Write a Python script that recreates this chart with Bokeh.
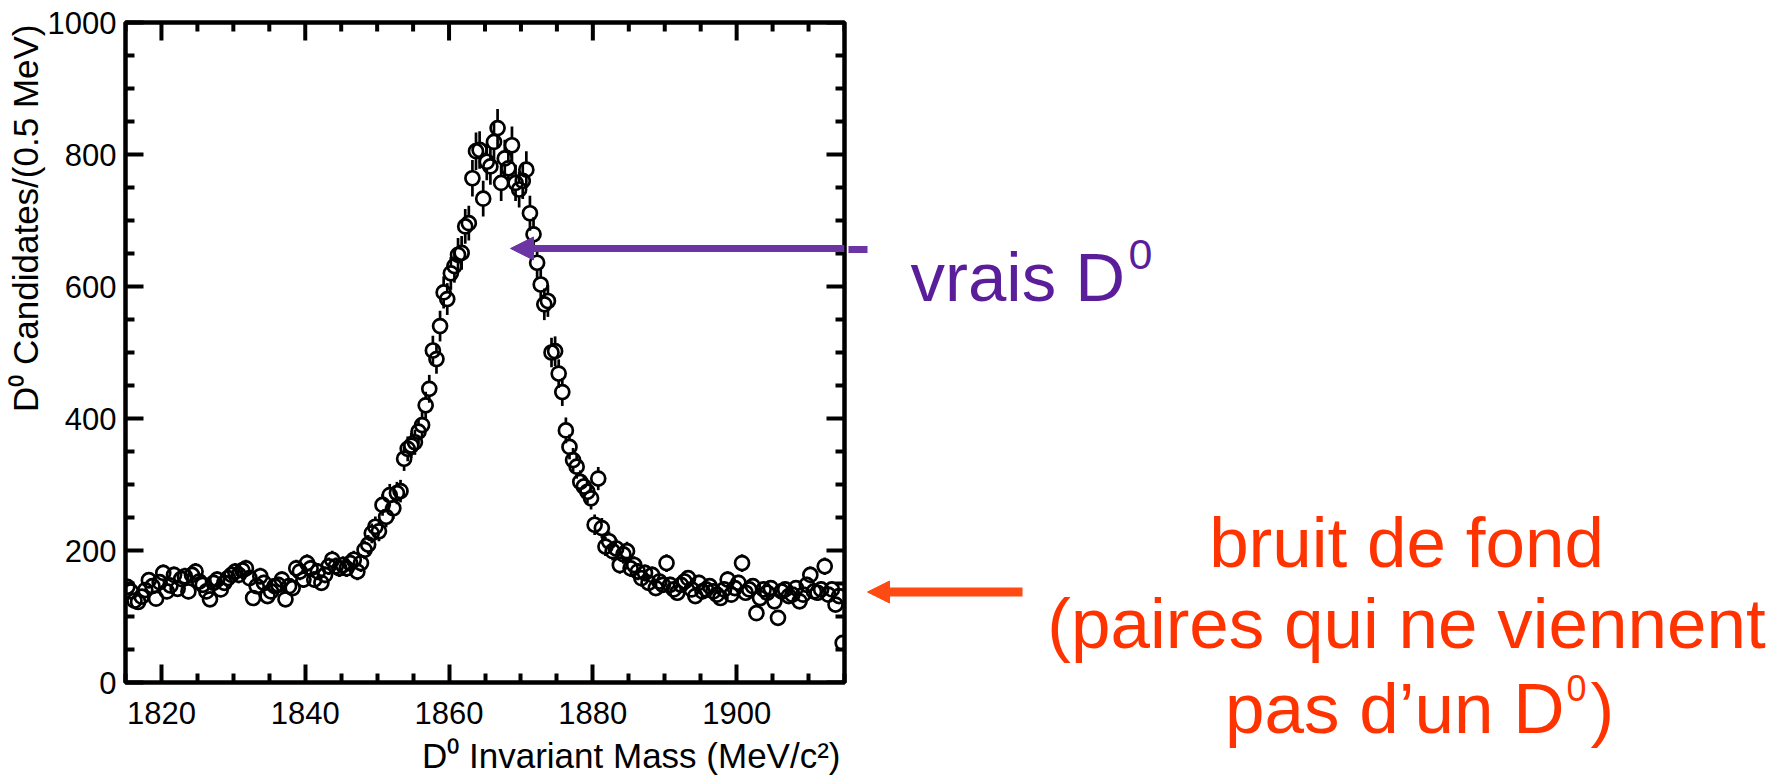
import numpy as np
from bokeh.plotting import figure
from bokeh.layouts import row
from bokeh.models import (ColumnDataSource, FixedTicker, Range1d, Title,
                          Arrow, NormalHead)
from bokeh.core.properties import value
from bokeh.embed import file_html
from bokeh.resources import INLINE

# ---------------- data ----------------
mass_lo = 1815.0
mass_hi = 1915.0
bin_width = 0.5
counts = [
    145, 138, 124, 122, 130, 140, 155, 146, 127, 152,
    166, 138, 147, 163, 142, 157, 161, 138, 163, 168,
    153, 148, 138, 126, 151, 156, 141, 151, 158, 163,
    168, 163, 170, 173, 158, 128, 146, 161, 151, 131,
    138, 146, 148, 156, 126, 146, 143, 173, 168, 156,
    181, 173, 156, 168, 151, 163, 176, 186, 176, 173,
    178, 173, 181, 186, 168, 181, 201, 209, 226, 236,
    229, 269, 251, 284, 264, 287, 290, 339, 354, 359,
    364, 380, 390, 420, 445, 503, 490, 540, 591, 581,
    620, 631, 648, 651, 691, 696, 764, 805, 807, 733,
    789, 782, 819, 840, 757, 794, 779, 814, 757, 747,
    760, 777, 711, 679, 636, 603, 573, 578, 500, 502,
    468, 440, 382, 357, 337, 327, 304, 297, 289, 279,
    239, 309, 234, 206, 214, 199, 203, 178, 194, 199,
    173, 178, 168, 158, 166, 151, 163, 143, 153, 148,
    181, 148, 141, 136, 148, 153, 158, 141, 131, 151,
    138, 141, 146, 138, 133, 128, 141, 156, 133, 143,
    151, 181, 136, 141, 146, 105, 128, 141, 136, 143,
    123, 98, 138, 141, 131, 133, 143, 123, 133, 148,
    163, 138, 136, 141, 176, 133, 141, 118, 131, 60,
]
x_major = [1820, 1840, 1860, 1880, 1900]
x_minor = [1815, 1825, 1830, 1835, 1845, 1850, 1855, 1865, 1870, 1875,
           1885, 1890, 1895, 1905, 1910, 1915]
y_major = [0, 200, 400, 600, 800, 1000]
y_minor = [50, 100, 150, 250, 300, 350, 450, 500, 550, 650, 700, 750,
           850, 900, 950]
x_title = "D\u2070 Invariant Mass (MeV/c\u00b2)"
y_title = "D\u2070 Candidates/(0.5 MeV)"
note_signal = "vrais D"
note_bkg = ["bruit de fond", "(paires qui ne viennent", "pas d\u2019un D"]

# ---------------- layout (page pixels) ----------------
W, H = 1784, 781
MAIN_W = 848
B_LEFT, B_TOP, FRAME_W, FRAME_H = 125, 22, 719, 663
B_RIGHT = MAIN_W - B_LEFT - FRAME_W
B_BOTTOM = H - B_TOP - FRAME_H
Y_LO, Y_HI = 0, 1000
SX = FRAME_W / (mass_hi - mass_lo)
SY = FRAME_H / (Y_HI - Y_LO)
MAJ_LEN, MIN_LEN = 18, 9
FONT = "Liberation Sans"


def X(px):
    return mass_lo + (px - B_LEFT) / SX


def Y(py):
    return Y_LO + (B_TOP + FRAME_H - py) / SY


mass = mass_lo + bin_width * (np.arange(len(counts)) + 0.5)
cnt = np.array(counts, dtype=float)
err = np.sqrt(cnt)
MARKER = 14
gap = (MARKER / 2) / SY
has = err > gap
src = ColumnDataSource(dict(
    x=mass, y=cnt,
    lo0=cnt - err, lo1=np.where(has, cnt - gap, cnt - err),
    hi0=np.where(has, cnt + gap, cnt + err), hi1=cnt + err,
))

p = figure(width=MAIN_W, height=H, x_range=Range1d(mass_lo, mass_hi),
           y_range=Range1d(Y_LO, Y_HI), output_backend="svg",
           toolbar_location=None, min_border_left=B_LEFT,
           min_border_right=B_RIGHT, min_border_top=B_TOP,
           min_border_bottom=B_BOTTOM)
p.grid.visible = False
p.outline_line_color = "black"
p.outline_line_width = 4.5
p.background_fill_color = "white"
p.border_fill_color = "white"
p.frame_align = False


def style(ax, ticker, standoff):
    ax.ticker = ticker
    ax.axis_line_color = None
    ax.major_tick_in = MAJ_LEN
    ax.major_tick_out = 0
    ax.minor_tick_in = MIN_LEN
    ax.minor_tick_out = 0
    ax.major_tick_line_width = 4
    ax.minor_tick_line_width = 4
    ax.major_tick_line_color = "black"
    ax.minor_tick_line_color = "black"
    ax.major_label_text_font = FONT
    ax.major_label_text_font_size = "31px"
    ax.major_label_text_color = "black"
    ax.major_label_standoff = standoff


style(p.xaxis[0], FixedTicker(ticks=x_major, minor_ticks=x_minor), 19)
style(p.yaxis[0], FixedTicker(ticks=y_major, minor_ticks=y_minor), 9)

p.add_layout(Title(text=x_title, align="right", offset=4, standoff=14,
                   text_font=FONT, text_font_size="35px",
                   text_font_style="normal", text_color="black"), "below")
p.add_layout(Title(text=y_title, align="right", offset=2, standoff=0,
                   text_font=FONT, text_font_size="35px",
                   text_font_style="normal", text_color="black"), "left")

# ticks on the top and right sides of the frame (pointing inwards)
tx = np.array(x_major + x_minor, dtype=float)
tlen_x = np.array([MAJ_LEN] * len(x_major) + [MIN_LEN] * len(x_minor)) / SY
p.segment(x0=tx, y0=np.full(tx.size, float(Y_HI)), x1=tx, y1=Y_HI - tlen_x,
          line_color="black", line_width=4)
ty = np.array(y_major + y_minor, dtype=float)
tlen_y = np.array([MAJ_LEN] * len(y_major) + [MIN_LEN] * len(y_minor)) / SX
p.segment(x0=np.full(ty.size, mass_hi), y0=ty, x1=mass_hi - tlen_y, y1=ty,
          line_color="black", line_width=4)

# error bars (with a gap for the open marker) and markers
p.segment(x0="x", y0="lo0", x1="x", y1="lo1", source=src,
          line_color="black", line_width=2.7)
p.segment(x0="x", y0="hi0", x1="x", y1="hi1", source=src,
          line_color="black", line_width=2.7)
p.scatter("x", "y", source=src, marker="circle", size=MARKER,
          line_color="black", line_width=2.7, fill_color=None)

PURPLE_T = "#5a1e9b"
PURPLE_A = "#6b35a3"
RED_T = "#ff3300"
RED_A = "#ff4a14"

# purple arrow: the part inside the frame with its head
p.add_layout(Arrow(x_start=mass_hi, y_start=Y(249), x_end=X(510),
                   y_end=Y(249), line_color=PURPLE_A, line_width=7,
                   end=NormalHead(size=23, fill_color=PURPLE_A,
                                  line_color=PURPLE_A, line_width=1)))

# ---------------- annotation panel on the right ----------------
A_W = W - MAIN_W
a = figure(width=A_W, height=H, x_range=Range1d(MAIN_W, W),
           y_range=Range1d(H, 0), output_backend="svg",
           toolbar_location=None, x_axis_type=None, y_axis_type=None,
           title=None, min_border=0, min_border_left=0, min_border_right=0,
           min_border_top=0, min_border_bottom=0)
a.grid.visible = False
a.outline_line_color = None
a.background_fill_color = "white"
a.border_fill_color = "white"
a.frame_align = False

a.segment(x0=[MAIN_W - 2], y0=[249], x1=[867], y1=[249],
          line_color=PURPLE_A, line_width=7)
a.add_layout(Arrow(x_start=1022, y_start=591.5, x_end=867, y_end=591.5,
                   line_color=RED_A, line_width=9,
                   end=NormalHead(size=22, fill_color=RED_A,
                                  line_color=RED_A, line_width=1)))


def txt(fig, text, px, py, size, color, align="left"):
    fig.text(x=[px], y=[py], text=[text], text_font=value(FONT),
             text_font_size=value(f"{size}px"), text_color=color,
             text_align=align, text_baseline="alphabetic")


txt(a, note_signal, 910, 277, 69, PURPLE_T)
txt(a, "0", 1128, 254, 43, PURPLE_T)
txt(a, note_bkg[0], 1406, 542, 71, RED_T, "center")
txt(a, note_bkg[1], 1406, 623, 71, RED_T, "center")
txt(a, note_bkg[2], 1564, 708, 71, RED_T, "right")
txt(a, "0", 1566, 687, 36, RED_T)
txt(a, ")", 1590, 708, 71, RED_T)

layout = row(p, a, spacing=0)
open("out.html", "w").write(file_html(layout, INLINE))
